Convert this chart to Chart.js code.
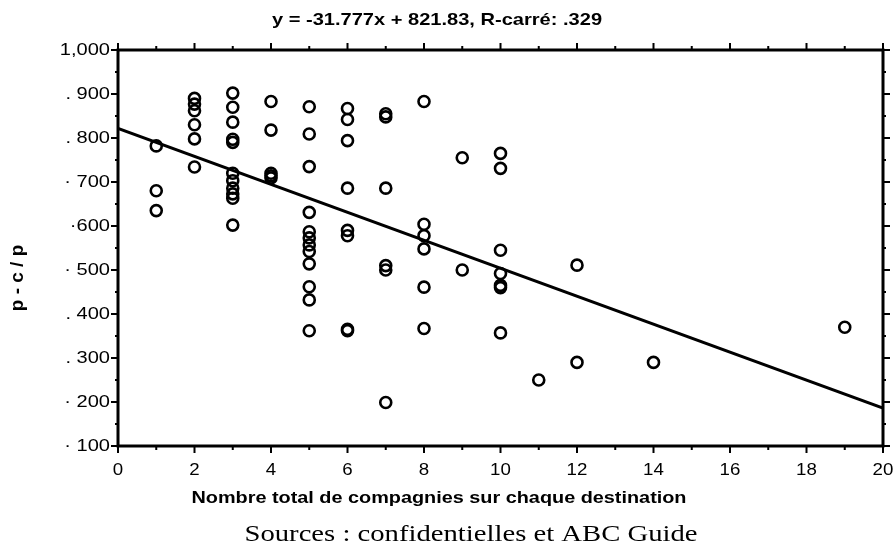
<!DOCTYPE html>
<html>
<head>
<meta charset="utf-8">
<script src="https://cdn.jsdelivr.net/npm/chart.js@4.4.0/dist/chart.umd.min.js"></script>
<style>
  html, body { margin: 0; padding: 0; background: #fff; }
  #wrap { width: 896px; height: 547px; }
</style>
</head>
<body>
<div id="wrap"><canvas id="chart" width="896" height="547"></canvas></div>
<script>
// nombre de compagnies (x) et marge p - c / p (y, en millièmes)
const companies = [
  1, 1, 1,
  2, 2, 2, 2, 2, 2,
  3, 3, 3, 3, 3, 3, 3, 3, 3, 3, 3,
  4, 4, 4, 4, 4,
  5, 5, 5, 5, 5, 5, 5, 5, 5, 5, 5, 5,
  6, 6, 6, 6, 6, 6, 6, 6,
  7, 7, 7, 7, 7, 7,
  8, 8, 8, 8, 8, 8,
  9, 9,
  10, 10, 10, 10, 10, 10, 10,
  11,
  12, 12,
  14,
  19
];
const margins = [
  782, 680, 635,
  890, 877, 862, 830, 798, 734,
  902, 870, 836, 797, 790, 720, 703, 686, 673, 663, 602,
  883, 818, 720, 714, 709,
  871, 809, 735, 631, 587, 573, 557, 542, 514, 462, 432, 362,
  867, 842, 794, 686, 590, 578, 365, 362,
  855, 848, 686, 510, 500, 199,
  883, 604, 578, 548, 461, 367,
  755, 500,
  765, 731, 545, 492, 465, 460, 357,
  250,
  511, 290,
  290,
  370
];

const slope = -31.777;
const intercept = 821.83;
const xRange = [0, 20];
const yRange = [100, 1000];

const xTickLabels = ["0", "2", "4", "6", "8", "10", "12", "14", "16", "18", "20"];
const yTickLabels = ["· 100", "· 200", ". 300", ". 400", "· 500", "·600", "· 700", ". 800", ". 900", "1,000"];

const titleText = "y = -31.777x + 821.83, R-carré: .329";
const xTitle = "Nombre total de compagnies sur chaque destination";
const yTitle = "p - c / p";
const sourceText = "Sources : confidentielles et ABC Guide";

const points = companies.map((x, i) => ({ x: x, y: margins[i] }));
const fitLine = xRange.map((x) => ({ x: x, y: intercept + slope * x }));

const SANS = "'Liberation Sans', Arial, sans-serif";
const SERIF = "'Liberation Serif', 'Times New Roman', serif";

// the scanned original is a bit wider than the font, so text gets a horizontal stretch
function stretchedText(ctx, text, x, y, font, align, baseline, sx) {
  ctx.save();
  ctx.font = font;
  ctx.textAlign = align;
  ctx.textBaseline = baseline;
  ctx.translate(x, y);
  ctx.scale(sx, 1);
  ctx.fillText(text, 0, 0);
  ctx.restore();
}

const frameAndText = {
  id: "frameAndText",
  afterDraw(chart) {
    const ctx = chart.ctx;
    const a = chart.chartArea;
    const xs = chart.scales.x;
    const ys = chart.scales.y;
    ctx.save();
    ctx.strokeStyle = "#000";
    ctx.fillStyle = "#000";
    ctx.lineWidth = 3;
    ctx.strokeRect(a.left, a.top, a.right - a.left, a.bottom - a.top);

    ctx.lineWidth = 2;
    ctx.beginPath();
    xs.ticks.forEach((t) => {
      const px = xs.getPixelForValue(t.value);
      const len = t.value % 2 === 0 ? 7 : 4;
      ctx.moveTo(px, a.bottom); ctx.lineTo(px, a.bottom + len);
      ctx.moveTo(px, a.top); ctx.lineTo(px, a.top - len);
      if (t.value % 2 === 0) {
        stretchedText(ctx, xTickLabels[t.value / 2], px, 475, "17px " + SANS, "center", "alphabetic", 1.1);
      }
    });
    ys.ticks.forEach((t) => {
      const py = ys.getPixelForValue(t.value);
      const len = t.value % 100 === 0 ? 7 : 3;
      ctx.moveTo(a.left, py); ctx.lineTo(a.left - len, py);
      ctx.moveTo(a.right, py); ctx.lineTo(a.right + len, py);
      if (t.value % 100 === 0) {
        stretchedText(ctx, yTickLabels[t.value / 100 - 1], a.left - 8, py, "17px " + SANS, "right", "middle", 1.18);
      }
    });
    ctx.stroke();

    stretchedText(ctx, titleText, 437, 25, "bold 17px " + SANS, "center", "alphabetic", 1.18);
    stretchedText(ctx, xTitle, 439, 503, "bold 16px " + SANS, "center", "alphabetic", 1.24);
    stretchedText(ctx, sourceText, 471, 541, "23.5px " + SERIF, "center", "alphabetic", 1.22);

    ctx.translate(18, 278);
    ctx.rotate(-Math.PI / 2);
    ctx.font = "bold 19px " + SANS;
    ctx.textAlign = "center";
    ctx.textBaseline = "middle";
    ctx.fillText(yTitle, 0, 0);
    ctx.restore();
  }
};

new Chart(document.getElementById("chart"), {
  type: "scatter",
  data: {
    datasets: [
      {
        type: "line",
        data: fitLine,
        borderColor: "#000",
        borderWidth: 3,
        pointRadius: 0,
        fill: false
      },
      {
        data: points,
        pointStyle: "circle",
        pointRadius: 5.5,
        pointBorderWidth: 2.6,
        pointBorderColor: "#000",
        pointBackgroundColor: "rgba(0,0,0,0)"
      }
    ]
  },
  options: {
    responsive: false,
    animation: false,
    layout: { padding: { top: 50, right: 13, left: 0, bottom: 0 } },
    plugins: { legend: { display: false }, tooltip: { enabled: false } },
    scales: {
      x: {
        type: "linear",
        min: xRange[0],
        max: xRange[1],
        grid: { display: false },
        border: { display: false },
        afterFit: (s) => { s.height = 101; },
        ticks: { display: false, stepSize: 1, autoSkip: false }
      },
      y: {
        type: "linear",
        min: yRange[0],
        max: yRange[1],
        grid: { display: false },
        border: { display: false },
        afterFit: (s) => { s.width = 118; },
        ticks: { display: false, stepSize: 50, autoSkip: false }
      }
    }
  },
  plugins: [frameAndText]
});
</script>
</body>
</html>
